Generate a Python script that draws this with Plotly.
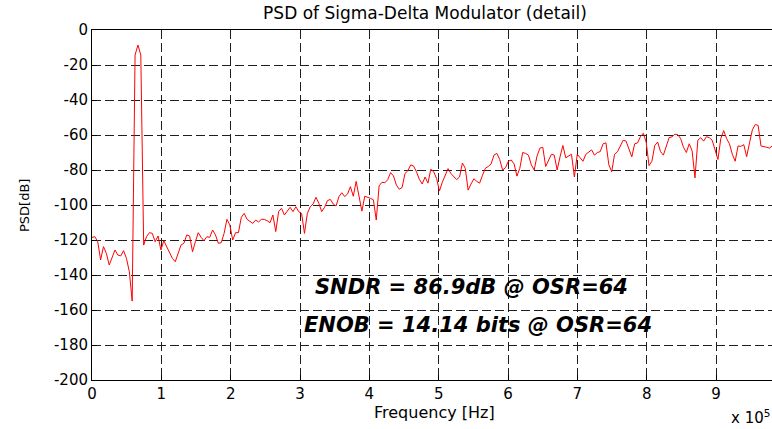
import numpy as np
import plotly.graph_objects as go

# FFT bin spacing of the modulator output spectrum (Hz)
BIN_HZ = 4141.0

# PSD of the modulator output, one value per FFT bin (dB)
psd_db = [
    -118.5, -118.1, -121.0, -131.4, -123.8, -127.6, -134.3, -129.5, -125.7, -128.6,
    -129.1, -126.1, -130.5, -138.1, -154.9, -14.3, -8.6, -14.3, -122.9, -118.1,
    -115.8, -116.2, -121.0, -117.7, -125.7, -120.4, -123.8, -127.6, -130.5, -132.4,
    -127.6, -122.9, -121.9, -117.1, -117.7, -126.7, -121.0, -115.8, -118.5, -120.4,
    -118.1, -118.5, -114.3, -117.1, -121.9, -121.5, -116.2, -108.2, -111.4, -120.0,
    -115.8, -115.8, -107.0, -104.8, -108.2, -109.5, -110.5, -108.6, -109.7, -108.2,
    -108.2, -109.0, -110.1, -105.7, -115.2, -103.8, -101.9, -105.7, -103.8, -101.3,
    -103.8, -101.0, -103.8, -104.8, -116.2, -104.8, -101.0, -99.4, -95.6, -99.0,
    -103.8, -101.3, -97.5, -96.8, -99.4, -100.6, -95.2, -93.0, -95.2, -93.7,
    -89.5, -95.0, -86.5, -96.0, -103.5, -95.0, -95.5, -96.2, -97.0, -108.6,
    -89.0, -87.0, -87.3, -85.5, -81.5, -83.4, -88.6, -91.0, -90.0, -82.0,
    -80.4, -77.1, -77.7, -81.0, -85.3, -88.0, -84.0, -87.5, -79.6, -81.0,
    -84.8, -92.0, -87.0, -83.4, -79.2, -82.0, -84.0, -85.5, -84.0, -76.0,
    -79.0, -91.5, -88.0, -85.0, -86.5, -87.5, -83.0, -79.0, -78.0, -76.5,
    -71.5, -70.5, -74.0, -80.0, -78.7, -75.0, -74.3, -76.5, -83.5, -79.0,
    -70.0, -70.5, -71.5, -77.0, -80.0, -72.0, -67.5, -67.0, -78.0, -74.0,
    -71.0, -71.5, -80.0, -72.5, -66.0, -73.0, -72.0, -71.0, -84.0, -71.0,
    -73.0, -75.0, -71.0, -69.6, -68.5, -71.5, -70.0, -69.5, -65.0, -64.5,
    -77.0, -81.0, -71.0, -69.6, -66.0, -63.0, -63.5, -68.5, -72.5, -65.0,
    -64.5, -61.0, -59.0, -64.0, -77.5, -75.0, -66.0, -64.0, -69.5, -71.5,
    -66.0, -61.5, -61.0, -59.5, -59.8, -62.0, -67.0, -70.0, -65.0, -69.0,
    -84.5, -63.0, -61.5, -63.5, -61.0, -61.5, -63.0, -68.0, -74.0, -62.0,
    -57.5, -62.0, -65.0, -71.0, -75.0, -66.3, -66.5, -65.5, -72.4, -64.5,
    -57.0, -54.0, -54.5, -66.3, -66.5, -67.0, -67.5, -66.0,
]
freq_hz = np.arange(len(psd_db)) * BIN_HZ

# Axis ticks
x_tick_vals = [0, 1e5, 2e5, 3e5, 4e5, 5e5, 6e5, 7e5, 8e5, 9e5]
x_tick_text = ["0", "1", "2", "3", "4", "5", "6", "7", "8", "9"]
y_tick_vals = [-200, -180, -160, -140, -120, -100, -80, -60, -40, -20, 0]
y_tick_text = ["-200", "-180", "-160", "-140", "-120", "-100", "-80", "-60", "-40", "-20", "0"]

# Figures of merit printed on the plot
sndr_text = "SNDR = 86.9dB @ OSR=64"
enob_text = "ENOB = 14.14 bits @ OSR=64"

FONT = "DejaVu Sans"
X_MAX = 9.807e5

fig = go.Figure()
fig.add_trace(go.Scatter(
    x=freq_hz, y=psd_db, mode="lines",
    line=dict(color="#ff0000", width=1),
    hoverinfo="skip", showlegend=False,
))

grid = dict(showgrid=True, gridcolor="#1e1e1e", gridwidth=1, griddash="9px,4px",
            zeroline=False, showline=True, linecolor="black", linewidth=1,
            ticks="inside", ticklen=5, tickcolor="black",
            tickfont=dict(family=FONT, size=15, color="black"))

fig.update_xaxes(range=[0, X_MAX], tickmode="array", tickvals=x_tick_vals,
                 ticktext=x_tick_text, mirror=True, **grid)
fig.update_yaxes(range=[-200, 0], tickmode="array", tickvals=y_tick_vals,
                 ticktext=y_tick_text, mirror=False, **grid)

annotations = [
    dict(x=5.48e5, y=-146.9, xref="x", yref="y", text=sndr_text, showarrow=False,
         font=dict(family=FONT, size=21, color="black", weight="bold", style="italic")),
    dict(x=5.56e5, y=-168.6, xref="x", yref="y", text=enob_text, showarrow=False,
         font=dict(family=FONT, size=21, color="black", weight="bold", style="italic")),
    dict(x=0.503, y=-0.093, xref="paper", yref="paper", text="Frequency [Hz]",
         showarrow=False, yanchor="middle",
         font=dict(family=FONT, size=16, color="black")),
    dict(x=-0.114, y=0.5, xref="paper", yref="paper", text="PSD[dB]", textangle=-90,
         showarrow=False, font=dict(family=FONT, size=13, color="black")),
    dict(x=1.0, y=-0.106, xref="paper", yref="paper", text="x 10<sup>5</sup>",
         xanchor="right", yanchor="middle", showarrow=False,
         font=dict(family=FONT, size=15, color="black")),
]

fig.update_layout(
    width=772, height=429,
    margin=dict(l=92, r=0, t=30, b=49),
    paper_bgcolor="white", plot_bgcolor="white",
    title=dict(text="PSD of Sigma-Delta Modulator (detail)", x=425 / 772, xanchor="center",
               y=1 - 13 / 429, yanchor="middle", yref="container",
               font=dict(family=FONT, size=17, color="black")),
    annotations=annotations,
)

fig.write_html("out.html")
